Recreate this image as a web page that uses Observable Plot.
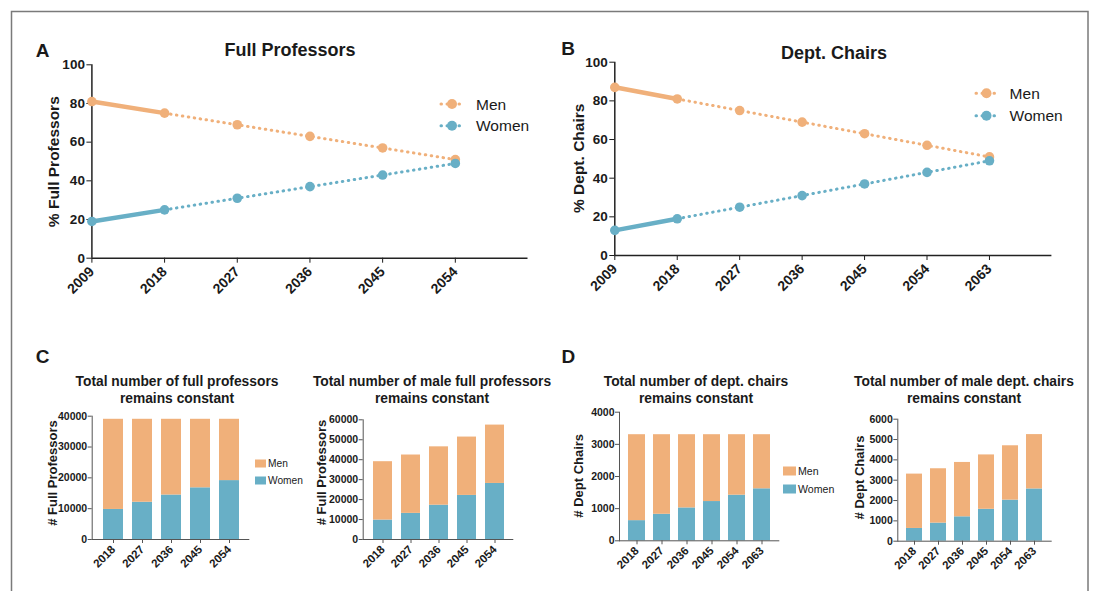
<!DOCTYPE html>
<html><head><meta charset="utf-8">
<script src="https://cdn.jsdelivr.net/npm/d3@7"></script>
<script src="https://cdn.jsdelivr.net/npm/@observablehq/plot@0.6"></script>
<style>
body{margin:0;background:#fff;}
#page{position:relative;width:1098px;height:591px;overflow:hidden;font-family:"Liberation Sans",Arial,sans-serif;background:#fff;}
#page > svg{position:absolute;max-width:none;}
</style></head><body><div id="page"></div>
<script>
const MEN = "#F0B07A", WOMEN = "#68AFC6";
const FONT = "'Liberation Sans', Arial, sans-serif";

// Panel A: % full professors
const yearsA = [2009, 2018, 2027, 2036, 2045, 2054];
const menPctA = [81, 75, 69, 63, 57, 51];
const womenPctA = [19, 25, 31, 37, 43, 49];
// Panel B: % dept. chairs
const yearsB = [2009, 2018, 2027, 2036, 2045, 2054, 2063];
const menPctB = [87, 81, 75, 69, 63, 57, 51];
const womenPctB = [13, 19, 25, 31, 37, 43, 49];
// Panel C left: total constant
const yearsC = ["2018", "2027", "2036", "2045", "2054"];
const menC = [29250, 26910, 24570, 22230, 19890];
const womenC = [9750, 12090, 14430, 16770, 19110];
// Panel C right: male constant
const menC2 = [29250, 29250, 29250, 29250, 29250];
const womenC2 = [9750, 13100, 17200, 22100, 28100];
// Panel D left: total constant
const yearsD = ["2018", "2027", "2036", "2045", "2054", "2063"];
const menD = [2673, 2475, 2277, 2079, 1881, 1683];
const womenD = [627, 825, 1023, 1221, 1419, 1617];
// Panel D right: male constant
const menD2 = [2673, 2673, 2673, 2673, 2673, 2673];
const womenD2 = [627, 890, 1200, 1570, 2020, 2570];

const page = document.getElementById("page");
function place(el, L, T) { el.style.position = "absolute"; el.style.left = L + "px"; el.style.top = T + "px"; page.appendChild(el); }

function lineChart(years, men, women, xEnd, f) {
  const rows = [];
  years.forEach((y, i) => { rows.push({year: y, sex: "Men", v: men[i]}); rows.push({year: y, sex: "Women", v: women[i]}); });
  const solid = rows.filter(d => d.year <= years[1]);
  const dotted = rows.filter(d => d.year >= years[1]);
  const svg = Plot.plot({
    width: f.W, height: f.H,
    marginLeft: f.x0 - f.L, marginRight: f.L + f.W - f.x1,
    marginTop: f.y0 - f.T, marginBottom: f.T + f.H - f.y1,
    x: {domain: [years[0], xEnd]},
    y: {domain: [0, 100]},
    color: {domain: ["Men", "Women"], range: [MEN, WOMEN]},
    style: {fontFamily: FONT, fontSize: "13.5px", fontWeight: "bold", color: "#1a1a1a", background: "transparent", overflow: "visible"},
    marks: [
      Plot.axisY({ticks: [0, 20, 40, 60, 80, 100], tickSize: 5, tickPadding: 2, label: null, tickFormat: d => String(d)}),
      Plot.axisX({ticks: years, tickFormat: d => String(d), tickRotate: -45, tickSize: 5, tickPadding: 6, fontSize: 14, label: null}),
      Plot.ruleY([0], {stroke: "#222", strokeWidth: 1.5}),
      Plot.ruleX([years[0]], {stroke: "#222", strokeWidth: 1.5}),
      Plot.line(dotted, {x: "year", y: "v", z: "sex", stroke: "sex", strokeWidth: 3, strokeDasharray: "0.5 5.5", strokeLinecap: "round"}),
      Plot.line(solid, {x: "year", y: "v", z: "sex", stroke: "sex", strokeWidth: 4.5}),
      Plot.dot(rows, {x: "year", y: "v", fill: "sex", r: 4.8})
    ]
  });
  place(svg, f.L, f.T);
}

function barChart(years, men, women, yMax, yStep, f, pi, po) {
  const rows = [];
  years.forEach((y, i) => { rows.push({year: y, sex: "Women", v: women[i]}); rows.push({year: y, sex: "Men", v: men[i]}); });
  const svg = Plot.plot({
    width: f.W, height: f.H,
    marginLeft: f.x0 - f.L, marginRight: f.L + f.W - f.x1,
    marginTop: f.y0 - f.T, marginBottom: f.T + f.H - f.y1,
    x: {type: "band", domain: years, paddingInner: pi, paddingOuter: po},
    y: {domain: [0, yMax]},
    color: {domain: ["Men", "Women"], range: [MEN, WOMEN]},
    style: {fontFamily: FONT, fontSize: "10.5px", fontWeight: "bold", color: "#1a1a1a", background: "transparent", overflow: "visible"},
    marks: [
      Plot.barY(rows, {x: "year", y: "v", fill: "sex"}),
      Plot.axisY({ticks: d3.range(0, yMax + 1, yStep), tickSize: 4, tickPadding: 1, label: null, tickFormat: d => String(d), stroke: "#555"}),
      Plot.axisX({tickRotate: -45, tickSize: 4, tickPadding: 4, fontSize: 11.5, label: null, stroke: "#555"}),
      Plot.ruleY([0], {stroke: "#555", strokeWidth: 1}),
      Plot.frame({anchor: "left", stroke: "#555", strokeWidth: 1})
    ]
  });
  place(svg, f.L, f.T);
}

lineChart(yearsA, menPctA, womenPctA, 2063, {L: 0, T: 0, W: 545, H: 320, x0: 91.4, x1: 527.5, y0: 64.3, y1: 257.7});
lineChart(yearsB, menPctB, womenPctB, 2072, {L: 550, T: 0, W: 520, H: 320, x0: 614.3, x1: 1051.4, y0: 61.7, y1: 255});

barChart(yearsC, menC, womenC, 40000, 10000, {L: 0, T: 400, W: 260, H: 191, x0: 91.7, x1: 249.3, y0: 415.7, y1: 539}, 0.315, 0.356);
barChart(yearsC, menC2, womenC2, 60000, 10000, {L: 290, T: 400, W: 240, H: 191, x0: 362.7, x1: 513.3, y0: 419.3, y1: 539}, 0.33, 0.335);
barChart(yearsD, menD, womenD, 4000, 1000, {L: 560, T: 400, W: 235, H: 191, x0: 619, x1: 779.3, y0: 411.7, y1: 540.3}, 0.32, 0.353);
barChart(yearsD, menD2, womenD2, 6000, 1000, {L: 860, T: 400, W: 210, H: 191, x0: 897.3, x1: 1051.7, y0: 418.7, y1: 540.7}, 0.32, 0.375);

// Overlay: frame, panel letters, titles, axis labels, legends
const NS = "http://www.w3.org/2000/svg";
const ov = document.createElementNS(NS, "svg");
ov.setAttribute("width", 1098); ov.setAttribute("height", 591);
ov.style.pointerEvents = "none";
function el(tag, attrs, text) {
  const e = document.createElementNS(NS, tag);
  for (const k in attrs) e.setAttribute(k, attrs[k]);
  if (text != null) e.textContent = text;
  ov.appendChild(e); return e;
}
function txt(x, y, s, size, weight, opts = {}) {
  const a = {x, y, "font-family": FONT, "font-size": size, "font-weight": weight, fill: "#1a1a1a", "dominant-baseline": "central", "text-anchor": opts.anchor || "middle"};
  if (opts.rotate) a.transform = `rotate(-90 ${x} ${y})`;
  return el("text", a, s);
}
el("rect", {x: 11.5, y: 11.5, width: 1076.5, height: 620, fill: "none", stroke: "#7a7a7a", "stroke-width": 1.5});

txt(42.5, 50, "A", 19, "bold"); txt(568, 48.5, "B", 19, "bold");
txt(42.7, 356.3, "C", 19, "bold"); txt(568.3, 356.7, "D", 19, "bold");
txt(290, 50, "Full Professors", 18, "bold");
txt(834, 52.5, "Dept. Chairs", 18, "bold");
txt(53.6, 161.7, "% Full Professors", 15.5, "bold", {rotate: true});
txt(578.6, 158.3, "% Dept. Chairs", 15.5, "bold", {rotate: true});

const barTitles = [
  [177, "Total number of full professors"], [432, "Total number of male full professors"],
  [696, "Total number of dept. chairs"], [964, "Total number of male dept. chairs"]
];
barTitles.forEach(([x, s]) => { txt(x, 381.5, s, 13.8, "bold"); txt(x, 398.3, "remains constant", 13.8, "bold"); });
txt(52.5, 473, "# Full Professors", 13, "bold", {rotate: true});
txt(321, 472.5, "# Full Professors", 13, "bold", {rotate: true});
txt(578.3, 475.8, "# Dept Chairs", 13, "bold", {rotate: true});
txt(859.3, 477.5, "# Dept Chairs", 13, "bold", {rotate: true});

function lineLegend(x0, x1, cx, tx, y, color, label) {
  el("line", {x1: x0, x2: x1, y1: y, y2: y, stroke: color, "stroke-width": 3, "stroke-dasharray": "0.5 5.5", "stroke-linecap": "round"});
  el("circle", {cx, cy: y, r: 5, fill: color});
  txt(tx, y, label, 15.5, "normal", {anchor: "start"});
}
lineLegend(441, 463, 452, 476, 104, MEN, "Men");
lineLegend(441, 463, 452, 476, 125.7, WOMEN, "Women");
lineLegend(976, 998, 986.5, 1009.6, 93.3, MEN, "Men");
lineLegend(976, 998, 986.5, 1009.6, 115.7, WOMEN, "Women");

function barLegend(x, w, h, tx, y, color, label, size) {
  el("rect", {x, y: y - h / 2, width: w, height: h, fill: color});
  txt(tx, y, label, size, "normal", {anchor: "start"});
}
barLegend(255, 11, 8, 268, 463.5, MEN, "Men", 10.2);
barLegend(255, 11, 8, 268, 480.5, WOMEN, "Women", 10.2);
barLegend(783, 13, 9, 798, 471, MEN, "Men", 10.6);
barLegend(783, 13, 9, 798, 489, WOMEN, "Women", 10.6);

page.appendChild(ov);
ov.style.position = "absolute"; ov.style.left = "0px"; ov.style.top = "0px";
</script></body></html>
